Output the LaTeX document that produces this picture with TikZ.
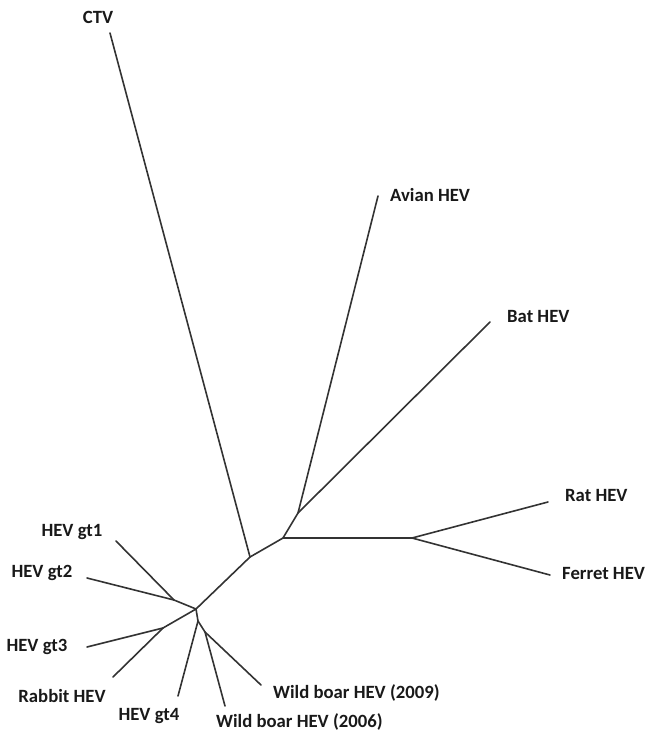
\documentclass[tikz,border=0pt]{standalone}
\usepackage{fontspec}
\setmainfont{Carlito}
\begin{document}
\begin{tikzpicture}[x=1pt,y=-1pt,
  br/.style={draw=black!80,line width=1.6pt,line cap=round,line join=round},
  lab/.style={inner sep=0pt,font=\bfseries\fontsize{18.7}{20}\selectfont,text=black!90}]
\useasboundingbox (0,0) rectangle (646,736);
% internal nodes
\coordinate (A) at (250,557);
\coordinate (B) at (283,538);
\coordinate (C) at (298,513);
\coordinate (D) at (412,538);
\coordinate (E) at (196,609);
\coordinate (F) at (174,600);
\coordinate (G) at (163,628);
\coordinate (H) at (198,621);
\coordinate (I) at (205,632);
% leaves
\coordinate (ctv) at (110,33);
\coordinate (avian) at (378,196);
\coordinate (bat) at (490,322);
\coordinate (rat) at (548,502);
\coordinate (ferret) at (550,575);
\coordinate (gt1) at (116,541);
\coordinate (gt2) at (87,578);
\coordinate (gt3) at (87,647);
\coordinate (rabbit) at (113,677);
\coordinate (gt4) at (178,696);
\coordinate (wb6) at (225,706);
\coordinate (wb9) at (261,685);
% branches
\draw[br] (ctv) -- (A);
\draw[br] (E) -- (A) -- (B) -- (C) -- (avian);
\draw[br] (C) -- (bat);
\draw[br] (B) -- (D) -- (rat);
\draw[br] (D) -- (ferret);
\draw[br] (gt1) -- (F) -- (E);
\draw[br] (gt2) -- (F);
\draw[br] (gt3) -- (G) -- (E);
\draw[br] (rabbit) -- (G);
\draw[br] (E) -- (H) -- (gt4);
\draw[br] (H) -- (I) -- (wb6);
\draw[br] (I) -- (wb9);
% labels
\node[lab] (lctv) at (98,17) {CTV};
\node[lab,anchor=west] (lavian) at (390,195) {Avian HEV};
\node[lab,anchor=west] (lbat) at (507,317) {Bat HEV};
\node[lab,anchor=west] (lrat) at (565,495) {Rat HEV};
\node[lab,anchor=west] (lferret) at (562,573) {Ferret HEV};
\node[lab] (lgt1) at (72,532) {HEV gt1};
\node[lab] (lgt2) at (42,573) {HEV gt2};
\node[lab] (lgt3) at (37,647) {HEV gt3};
\node[lab] (lrabbit) at (62,696) {Rabbit HEV};
\node[lab] (lgt4) at (149,716) {HEV gt4};
\node[lab,anchor=west] (lwb9) at (273,693) {Wild boar HEV (2009)};
\node[lab,anchor=west] (lwb6) at (216,722) {Wild boar HEV (2006)};
\end{tikzpicture}
\end{document}
